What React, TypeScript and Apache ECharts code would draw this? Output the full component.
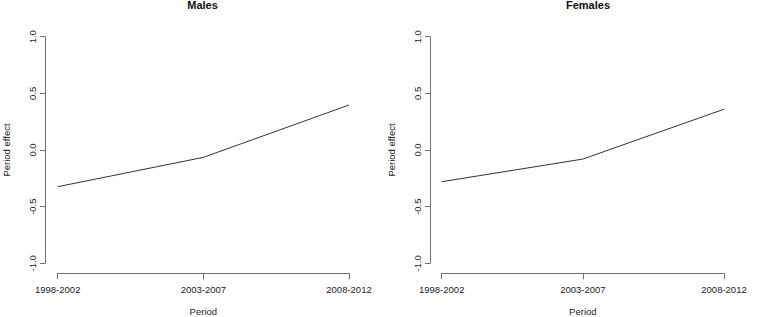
import React, { useEffect, useRef } from "react";
import * as echarts from "echarts";

const periods = ["1998-2002", "2003-2007", "2008-2012"];
const malesEffect = [-0.324, -0.065, 0.397];
const femalesEffect = [-0.28, -0.08, 0.36];
const panelTitles = ["Males", "Females"];
const yTicks = [-1, -0.5, 0, 0.5, 1];

const FONT = "'Liberation Sans', Arial, sans-serif";
const AXIS_COLOR = "#6f6f6f";
const TEXT_COLOR = "#222";

export default function App() {
  const ref = useRef<HTMLDivElement>(null);
  useEffect(() => {
    if (!ref.current) return;
    const chart = echarts.init(ref.current, null, { renderer: "svg" });
    const grids = [
      { left: 57.7, top: 36.7, width: 291.3, height: 226.6, outerBoundsMode: "none", containLabel: false },
      { left: 441.7, top: 36.7, width: 282.3, height: 226.6, outerBoundsMode: "none", containLabel: false },
    ];
    const yOffsets = [12.7, 11.7];
    const mkX = (i: number) => ({
      type: "category",
      gridIndex: i,
      data: periods,
      boundaryGap: false,
      offset: 10,
      name: "Period",
      nameLocation: "middle",
      nameGap: 33,
      nameTextStyle: { color: TEXT_COLOR, fontSize: 9.5, fontFamily: FONT },
      axisLine: { show: true, onZero: false, lineStyle: { color: AXIS_COLOR, width: 1 } },
      axisTick: { show: true, length: 6, alignWithLabel: true, lineStyle: { color: AXIS_COLOR } },
      axisLabel: { color: TEXT_COLOR, fontSize: 9.5, fontFamily: FONT, margin: 11, interval: 0 },
      splitLine: { show: false },
    });
    const mkY = (i: number) => ({
      type: "value",
      gridIndex: i,
      min: yTicks[0],
      max: yTicks[yTicks.length - 1],
      interval: 0.5,
      offset: yOffsets[i],
      name: "Period effect",
      nameLocation: "middle",
      nameGap: 34,
      nameTextStyle: { color: TEXT_COLOR, fontSize: 9.5, fontFamily: FONT },
      axisLine: { show: true, onZero: false, lineStyle: { color: AXIS_COLOR, width: 1 } },
      axisTick: { show: true, length: 5, lineStyle: { color: AXIS_COLOR } },
      axisLabel: {
        color: TEXT_COLOR,
        fontSize: 9.5,
        fontFamily: FONT,
        rotate: 90,
        margin: 8,
        formatter: (v: number) => v.toFixed(1),
      },
      splitLine: { show: false },
    });
    const titleCenters = [202.5, 588];
    chart.setOption({
      animation: false,
      backgroundColor: "#fff",
      title: panelTitles.map((t, i) => ({
        text: t,
        left: titleCenters[i],
        top: -1,
        padding: 0,
        textAlign: "center",
        textStyle: { fontSize: 11, fontWeight: "bold", color: "#111", fontFamily: FONT },
      })),
      grid: grids,
      xAxis: [mkX(0), mkX(1)],
      yAxis: [mkY(0), mkY(1)],
      series: [
        {
          type: "line",
          xAxisIndex: 0,
          yAxisIndex: 0,
          data: malesEffect,
          showSymbol: false,
          symbol: "none",
          lineStyle: { color: "#333", width: 1 },
        },
        {
          type: "line",
          xAxisIndex: 1,
          yAxisIndex: 1,
          data: femalesEffect,
          showSymbol: false,
          symbol: "none",
          lineStyle: { color: "#333", width: 1 },
        },
      ],
    });
    return () => chart.dispose();
  }, []);
  return (
    <div
      ref={ref}
      style={{ position: "fixed", left: 0, top: 0, width: 764, height: 317 }}
    />
  );
}
